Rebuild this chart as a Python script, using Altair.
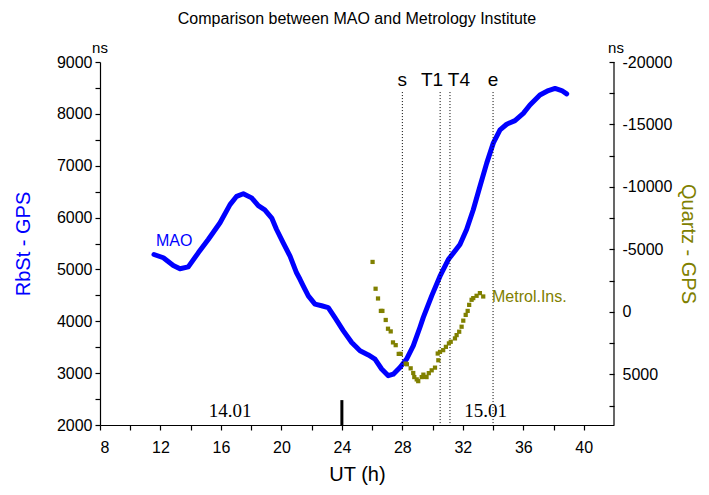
import altair as alt
import pandas as pd

# MAO (RbSt - GPS), left axis, ns
mao_h = [11.57, 12.19, 12.85, 13.29, 13.84, 14.5, 15.16, 15.94, 16.6, 17.04, 17.48, 18.03,
         18.47, 18.9, 19.36, 19.68, 20.12, 20.57, 21.0, 21.23, 21.45, 21.78, 22.22, 22.66,
         23.1, 23.54, 24.1, 24.65, 25.2, 25.75, 26.19, 26.63, 27.07, 27.4, 27.84, 28.28,
         28.72, 29.16, 29.38, 29.94, 30.49, 31.04, 31.81, 32.25, 32.69, 33.13, 33.58, 34.02,
         34.46, 34.9, 35.45, 36.0, 36.44, 37.1, 37.66, 38.1, 38.54, 38.87]
mao_v = [5288, 5225, 5077, 5013, 5050, 5320, 5577, 5900, 6250, 6410, 6460, 6380,
         6230, 6150, 5990, 5770, 5510, 5255, 4935, 4810, 4680, 4490, 4330, 4300,
         4265, 4070, 3815, 3590, 3430, 3350, 3270, 3080, 2950, 2980, 3110, 3270,
         3525, 3880, 4070, 4490, 4870, 5190, 5480, 5770, 6150, 6600, 7050, 7440,
         7690, 7800, 7870, 8010, 8170, 8365, 8450, 8490, 8450, 8385]

# Metrology Institute (Quartz - GPS), right axis, ns
met_h = [26.03, 26.23, 26.39, 26.58, 26.68, 26.9, 27.05, 27.23, 27.38, 27.56, 27.76, 27.89,
         28.22, 28.3, 28.55, 28.72, 28.79, 28.95, 29.05, 29.28, 29.39, 29.5, 29.6, 29.75,
         29.94, 30.16, 30.38, 30.34, 30.49, 30.7, 30.88, 31.08, 31.2, 31.48, 31.59, 31.76,
         31.92, 32.03, 32.19, 32.32, 32.42, 32.58, 32.69, 32.91, 33.13, 33.35]
met_v = [-4000, -1855, -1075, -80, -80, 645, 1345, 1560, 2440, 2660, 3360, 3360,
         4135, 4190, 4515, 4890, 5215, 5400, 5540, 5215, 5020, 5200, 5215, 4900,
         4675, 4460, 3870, 3330, 3200, 3060, 2795, 2520, 2390, 2120, 1855, 1585,
         1185, 700, 240, -80, -565, -970, -1105, -1290, -1505, -1235]

event_names = ["s", "T1", "T4", "e"]
event_line_h = [28.0, 30.5, 31.15, 34.0]
event_label_h = [28.0, 29.96, 31.74, 34.0]
event_top = 8420
event_label_v = 8650

day_names = ["14.01", "15.01"]
day_h = [16.6, 33.5]
day_v = [2270, 2270]
midnight_h = [24]
midnight_v = [2000]
midnight_v2 = [2480]

x_ticks = list(range(8, 41, 2))
left_ticks = list(range(2000, 9001, 500))
right_ticks = list(range(-20000, 7501, 2500))

LEFT_DOM = [2000, 9000]
RIGHT_DOM = [-20000, 9050]
X_DOM = [8, 42]
BLUE = "#0000ff"
OLIVE = "#808000"
FONT = "Liberation Sans"

xs = alt.Scale(domain=X_DOM, nice=False, zero=False)
ls = alt.Scale(domain=LEFT_DOM, nice=False, zero=False)
rs = alt.Scale(domain=RIGHT_DOM, nice=False, zero=False, reverse=True)

x_axis = alt.Axis(orient="bottom", values=x_ticks, title="UT (h)",
                  labelExpr="(datum.value - 8) % 4 === 0 ? datum.value : ''",
                  labelPadding=9, titlePadding=9, titleColor="black")


def X():
    return alt.X("h:Q", scale=xs, axis=x_axis)


mao_df = pd.DataFrame({"h": mao_h, "v": mao_v})
met_df = pd.DataFrame({"h": met_h, "v": met_v})

blue_line = alt.Chart(mao_df).mark_line(color=BLUE, strokeWidth=5, strokeCap="round", strokeJoin="round").encode(
    x=X(),
    y=alt.Y("v:Q", scale=ls, axis=alt.Axis(orient="left", values=left_ticks, title="RbSt - GPS", titleColor=BLUE,
                                             labelExpr="datum.value % 1000 === 0 ? datum.value : ''",
                                             labelPadding=3, titlePadding=23)),
)

mao_label = alt.Chart(pd.DataFrame({"h": [11.7], "v": [5540], "t": ["MAO"]})).mark_text(
    align="left", baseline="middle", font=FONT, fontSize=16, color=BLUE).encode(
    x=X(), y=alt.Y("v:Q", scale=ls, axis=None), text="t:N")

ev_df = pd.DataFrame({"h": event_line_h, "top": [event_top] * 4, "bot": [LEFT_DOM[0]] * 4})
vlines = alt.Chart(ev_df).mark_rule(color="black", strokeWidth=1, strokeDash=[1, 2]).encode(
    x=X(), y=alt.Y("top:Q", scale=ls, axis=None), y2="bot:Q")

evl_df = pd.DataFrame({"h": event_label_h, "v": [event_label_v] * 4, "t": event_names})
vlabels = alt.Chart(evl_df).mark_text(baseline="middle", font=FONT, fontSize=19, color="black").encode(
    x=X(), y=alt.Y("v:Q", scale=ls, axis=None), text="t:N")

day_df = pd.DataFrame({"h": day_h, "v": day_v, "t": day_names})
day_text = alt.Chart(day_df).mark_text(baseline="middle", font="Liberation Serif", fontSize=19, color="black").encode(
    x=X(), y=alt.Y("v:Q", scale=ls, axis=None), text="t:N")

mid_df = pd.DataFrame({"h": midnight_h, "v": midnight_v, "v2": midnight_v2})
mid_tick = alt.Chart(mid_df).mark_rule(color="black", strokeWidth=3).encode(
    x=X(), y=alt.Y("v:Q", scale=ls, axis=None), y2="v2:Q")

ns_left = alt.Chart(pd.DataFrame({"h": [8], "v": [9000], "t": ["ns"]})).mark_text(
    baseline="bottom", font=FONT, fontSize=15, color="black", dy=-6).encode(
    x=X(), y=alt.Y("v:Q", scale=ls, axis=None), text="t:N")

olive = alt.Chart(met_df).mark_square(color=OLIVE, size=18, opacity=1).encode(
    x=X(),
    y=alt.Y("v:Q", scale=rs, axis=alt.Axis(orient="right", values=right_ticks, title="Quartz - GPS",
                                             titleColor=OLIVE, domain=False, offset=-5,
                                             labelExpr="datum.value % 5000 === 0 ? '' + datum.value : ''",
                                             labelPadding=8, titlePadding=6)),
)

metrol_label = alt.Chart(pd.DataFrame({"h": [33.93], "v": [-1210], "t": ["Metrol.Ins."]})).mark_text(
    align="left", baseline="middle", font=FONT, fontSize=16, color=OLIVE).encode(
    x=X(), y=alt.Y("v:Q", scale=rs, axis=None), text="t:N")

frame_df = pd.DataFrame({"h": [X_DOM[1]], "v": [RIGHT_DOM[0]], "v2": [RIGHT_DOM[1]]})
right_frame = alt.Chart(frame_df).mark_rule(color="black", strokeWidth=1.2).encode(
    x=X(), y=alt.Y("v:Q", scale=rs, axis=None), y2="v2:Q")

ns_right = alt.Chart(pd.DataFrame({"h": [42], "v": [-20000], "t": ["ns"]})).mark_text(
    baseline="bottom", font=FONT, fontSize=15, color="black", dy=-6, dx=2).encode(
    x=X(), y=alt.Y("v:Q", scale=rs, axis=None), text="t:N")

chart = alt.layer(
    blue_line, vlines, vlabels, mao_label, day_text, mid_tick, ns_left,
    olive, metrol_label, right_frame, ns_right,
).resolve_scale(y="independent").properties(
    width=514, height=363,
    padding={"left": 92, "top": 54, "right": 87, "bottom": 60},
    autosize=alt.AutoSizeParams(type="none"),
    title=alt.Title("Comparison between MAO and Metrology Institute", font=FONT, fontSize=16,
                    fontWeight="normal", anchor="middle", color="black", offset=14),
).configure_axis(
    labelFont=FONT, titleFont=FONT, labelFontSize=16, titleFontSize=20, titleFontWeight="normal",
    grid=False, tickColor="black", domainColor="black", labelColor="black", tickSize=5,
    domainWidth=1.2, tickWidth=1.2,
).configure_view(stroke=None)

chart.save("out.html", embed_options={"renderer": "svg", "actions": False})
